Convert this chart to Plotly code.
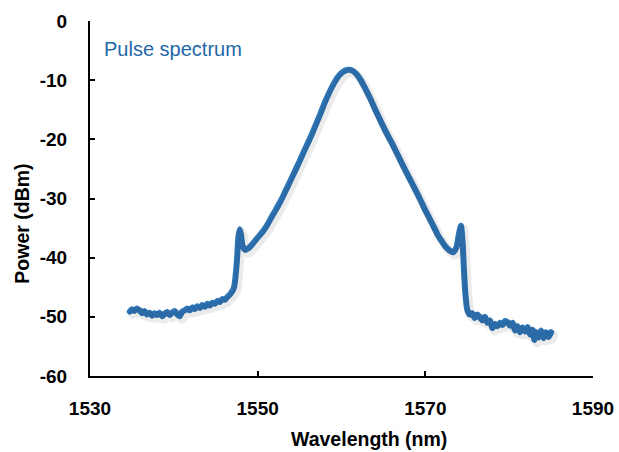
import plotly.graph_objects as go

# Wavelength (nm) and power (dBm)
wavelength = [
    1534.75, 1535.0, 1535.3, 1535.6, 1535.9, 1536.2, 1536.5, 1536.8, 1537.1, 1537.4,
    1537.7, 1538.0, 1538.3, 1538.6, 1538.9, 1539.2, 1539.5, 1539.8, 1540.1, 1540.4,
    1540.7, 1541.0, 1541.3, 1541.6, 1541.9, 1542.2, 1542.5, 1542.8, 1543.1, 1543.4,
    1543.7, 1544.0, 1544.3, 1544.6, 1544.9, 1545.2, 1545.5, 1545.8, 1546.1, 1546.4,
    1546.7, 1547.0, 1547.2, 1547.5, 1547.7, 1547.85, 1548.0, 1548.2, 1548.5, 1548.8,
    1549.2, 1549.6, 1550.0, 1550.6, 1551.0, 1551.6, 1552.0, 1552.6, 1553.0, 1553.5,
    1554.0, 1554.5, 1555.0, 1555.5, 1556.0, 1556.5, 1557.0, 1557.5, 1558.0, 1558.5,
    1559.0, 1559.5, 1560.0, 1560.5, 1560.9, 1561.3, 1561.8, 1562.3, 1562.9, 1563.5,
    1564.0, 1564.8, 1565.5, 1566.0, 1566.8, 1567.5, 1568.0, 1568.8, 1569.5, 1570.0,
    1570.8, 1571.5, 1572.0, 1572.4, 1572.9, 1573.3, 1573.7, 1574.0, 1574.25, 1574.45,
    1574.6, 1574.8, 1575.0, 1575.3, 1575.6, 1575.9, 1576.2, 1576.5, 1576.8, 1577.1,
    1577.4, 1577.7, 1578.0, 1578.3, 1578.6, 1578.9, 1579.2, 1579.5, 1579.8, 1580.1,
    1580.4, 1580.7, 1581.0, 1581.3, 1581.6, 1581.9, 1582.2, 1582.5, 1582.8, 1583.0,
    1583.2, 1583.5, 1583.8, 1584.1, 1584.4, 1584.7, 1585.0,
]
power = [
    -49.1, -48.7, -49.0, -48.6, -48.9, -49.4, -49.0, -49.6, -49.3, -49.8,
    -49.4, -49.7, -49.3, -49.9, -49.5, -49.2, -49.7, -49.3, -49.0, -49.6,
    -49.9, -49.1, -48.9, -48.6, -48.9, -48.4, -48.7, -48.2, -48.5, -48.0,
    -48.3, -47.8, -48.1, -47.6, -47.8, -47.3, -47.5, -47.0, -47.1, -46.6,
    -46.2, -45.6, -44.9, -41.0, -36.5, -35.2, -36.0, -38.0, -38.7, -38.5,
    -38.0, -37.3, -36.6, -35.6, -34.8, -33.3, -32.3, -30.8, -29.7, -28.2,
    -26.7, -25.2, -23.7, -22.1, -20.6, -19.0, -17.3, -15.6, -13.8, -12.2,
    -10.8, -9.6, -8.8, -8.35, -8.25, -8.4, -9.0, -10.0, -11.6, -13.3,
    -14.9, -17.3, -19.3, -20.6, -22.9, -24.9, -26.3, -28.5, -30.5, -32.0,
    -34.2, -36.2, -37.3, -38.1, -38.8, -39.1, -38.3, -36.0, -34.6, -37.5,
    -42.0, -46.5, -48.8, -49.6, -49.4, -50.2, -49.6, -50.1, -50.6, -50.0,
    -51.0, -50.6, -51.9, -51.2, -51.6, -51.0, -51.4, -50.7, -50.9, -51.5,
    -51.0, -52.3, -51.6, -52.6, -51.8, -52.5, -51.7, -53.0, -52.2, -53.9,
    -52.6, -53.5, -52.3, -53.6, -52.6, -53.4, -52.6,
]

x_ticks = [1530, 1550, 1570, 1590]
y_ticks = [0, -10, -20, -30, -40, -50, -60]
x_range = [1530, 1590]
y_range = [-60, 0]

line_color = "#2e75b6"
font_family = "Liberation Sans, Arial, sans-serif"

fig = go.Figure()

# soft drop shadow, drawn on slightly offset overlay axes
fig.add_trace(go.Scatter(
    x=wavelength, y=power, mode="lines",
    line=dict(color="rgba(0,0,0,0.08)", width=9, shape="spline", smoothing=0.6),
    xaxis="x2", yaxis="y2", hoverinfo="skip", showlegend=False,
))
fig.add_trace(go.Scatter(
    x=wavelength, y=power, mode="lines",
    line=dict(color=line_color, width=6, shape="spline", smoothing=0.6),
    showlegend=False,
))

axis_common = dict(
    showgrid=False, zeroline=False, automargin=False,
    showline=True, linecolor="black", linewidth=2,
    ticks="inside", ticklen=5, tickwidth=1.5, tickcolor="black",
    tickfont=dict(family=font_family, size=19, color="black", weight="bold"),
)

title_font = dict(family=font_family, size=19.5, color="black", weight="bold")

fig.update_layout(
    width=619, height=452,
    margin=dict(l=90, r=26, t=21, b=76),
    paper_bgcolor="white", plot_bgcolor="white",
    font=dict(family=font_family),
    xaxis=dict(
        range=x_range, tickvals=x_ticks, ticktext=[str(v) for v in x_ticks],
        ticklabelstandoff=14,
        **axis_common,
    ),
    yaxis=dict(
        range=y_range, tickvals=y_ticks, ticktext=[str(v) for v in y_ticks],
        ticklabelstandoff=17,
        **axis_common,
    ),
    xaxis2=dict(range=[x_range[0] - 0.3, x_range[1] - 0.3], overlaying="x", visible=False),
    yaxis2=dict(range=[y_range[0] + 0.5, y_range[1] + 0.5], overlaying="y", visible=False),
    annotations=[
        dict(
            text="Pulse spectrum", xref="paper", yref="paper",
            x=0.024, y=0.921, xanchor="left", yanchor="middle", showarrow=False,
            font=dict(family=font_family, size=20, color="#2468a8"),
        ),
        dict(
            text="Wavelength (nm)", xref="x", yref="paper",
            x=1563.3, y=-0.178, xanchor="center", yanchor="middle", showarrow=False,
            font=title_font,
        ),
        dict(
            text="Power (dBm)", xref="paper", yref="y",
            x=-0.1345, y=-34.2, xanchor="center", yanchor="middle", showarrow=False,
            textangle=-90, font=title_font,
        ),
    ],
)

post = """
document.body.style.margin='0';
document.body.style.overflow='hidden';
document.querySelectorAll('.js-line').forEach(function(p){
  p.style.strokeLinejoin='round'; p.style.strokeLinecap='round';
});
"""

fig.write_html("out.html", post_script=post, config={"displayModeBar": False})
